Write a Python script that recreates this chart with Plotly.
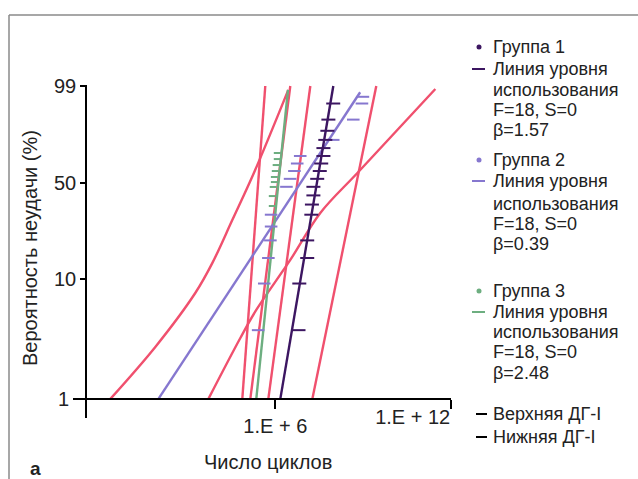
import numpy as np
import plotly.graph_objects as go

# ---------------- data (cycles, failure probability %) ----------------
g1_cycles = [9.5e7, 6.5e7, 6.0e7, 5.1e7, 4.4e7, 4.4e7, 3.7e7, 3.3e7, 2.7e7,
             2.0e7, 2.0e7, 1.78e7, 1.70e7, 1.23e7, 1.23e7, 6.6e6, 6.2e6]
g1_prob = [96.2, 90.8, 85.3, 79.9, 74.5, 69.0, 63.6, 58.2, 52.7,
           47.3, 41.8, 36.4, 31.0, 20.1, 14.7, 9.2, 3.8]

g2_cycles = [9.8e8, 9.1e8, 4.6e8, 9.5e7, 7.1e6, 5.6e6, 4.5e6, 3.2e6, 2.4e6,
             7.2e5, 7.2e5, 6.8e5, 5.8e5, 4.2e5, 2.6e5]
g2_prob = [97.6, 96.2, 90.8, 79.9, 69.0, 63.6, 58.2, 52.7, 47.3,
           31.0, 25.5, 20.1, 14.7, 9.2, 3.8]

g3_cycles = [1.17e6, 1.17e6, 1.07e6, 1.0e6, 9.3e5, 9.3e5, 8.5e5, 7.9e5, 7.9e5]
g3_prob = [71.1, 66.8, 62.5, 58.2, 54.0, 50.5, 47.2, 41.4, 35.6]

# usage-level (fit) lines
g1_line_cycles = [1.48e6, 9.57e7]
g1_line_prob = [1.0, 99.0]
g2_line_cycles = [101, 7.9e8]
g2_line_prob = [1.0, 98.3]
g3_line_cycles = [2.24e5, 2.71e6]
g3_line_prob = [1.0, 98.6]

# confidence bounds (upper / lower)
g1_low_cycles = [1.40e5, 3.25e6]
g1_low_prob = [1.0, 99.0]
g1_up_cycles = [1.84e7, 2.81e9]
g1_up_prob = [1.0, 99.0]
g3_low_cycles = [7.46e4, 4.55e5]
g3_low_prob = [1.0, 99.0]
g3_up_cycles = [5.77e5, 1.57e7]
g3_up_prob = [1.0, 99.0]
g2_low_cycles = [2.3, 80, 1850, 7050, 3.4e4, 1.92e5, 2.78e6]
g2_low_prob = [1.0, 2.75, 7.7, 13.4, 28.4, 57.5, 98.6]
g2_up_cycles = [5150, 6.4e4, 2.24e5, 3.25e6, 3.44e7, 6.84e8, 2.92e11]
g2_up_prob = [1.0, 3.27, 5.59, 14.2, 31.9, 57.5, 98.7]

y_ticks_prob = [99, 50, 10]
y_tick_labels = ["99", "50", "10"]
x_ticks = [1e6, 1e12]
x_tick_labels = ["1.E + 6", "1.E + 12"]

legend_lines = [
    ("Группа 1", 47), ("Линия уровня", 69), ("использования", 90),
    ("F=18, S=0", 110), ("β=1.57", 130),
    ("Группа 2", 160), ("Линия уровня", 181), ("использования", 204),
    ("F=18, S=0", 224), ("β=0.39", 244),
    ("Группа 3", 291), ("Линия уровня", 312), ("использования", 332),
    ("F=18, S=0", 352), ("β=2.48", 373),
    ("Верхняя ДГ-I", 414), ("Нижняя ДГ-I", 437),
]

# ---------------- styling ----------------
RED = "#F0506E"
DARK = "#3C1661"
VIOLET = "#8677CF"
GREEN = "#6DAE80"
FONT = "Liberation Sans, Arial, sans-serif"
TXT = "#222222"


def weib(p):
    p = np.asarray(p, dtype=float) / 100.0
    return np.log(-np.log(1.0 - p))


# plot area in pixels
PL, PR, PT, PB = 87, 451, 85, 418
Y_RANGE = [-4.970, 1.547]
X_RANGE = [-0.43, 12.0]


def px_x(px):
    return (px - PL) / (PR - PL)


def px_y(py):
    return (PB - py) / (PB - PT)


fig = go.Figure()


def add_line(xs, ps, color, shape="linear"):
    fig.add_trace(go.Scatter(x=xs, y=weib(ps), mode="lines",
                             line=dict(color=color, width=2.4, shape=shape),
                             showlegend=False, hoverinfo="skip"))


def add_marks(xs, ps, color, size):
    fig.add_trace(go.Scatter(x=xs, y=weib(ps), mode="markers",
                             marker=dict(symbol="line-ew", size=size,
                                         line=dict(color=color, width=2)),
                             showlegend=False, hoverinfo="skip"))


# confidence bounds
add_line(g2_low_cycles, g2_low_prob, RED, "spline")
add_line(g2_up_cycles, g2_up_prob, RED, "spline")
add_line(g3_low_cycles, g3_low_prob, RED)
add_line(g3_up_cycles, g3_up_prob, RED)
add_line(g1_low_cycles, g1_low_prob, RED)
add_line(g1_up_cycles, g1_up_prob, RED)
# fit lines
add_line(g2_line_cycles, g2_line_prob, VIOLET)
add_line(g3_line_cycles, g3_line_prob, GREEN)
add_line(g1_line_cycles, g1_line_prob, DARK)
# data marks
add_marks(g2_cycles, g2_prob, VIOLET, 9)
add_marks(g3_cycles, g3_prob, GREEN, 5)
add_marks(g1_cycles, g1_prob, DARK, 10)

# empty traces hosting the secondary axes (tick "1" and tick "1.E + 12")
fig.add_trace(go.Scatter(x=[], y=[], yaxis="y2", showlegend=False))
fig.add_trace(go.Scatter(x=[], y=[], xaxis="x2", showlegend=False))

y_pos_x_axis = (float(weib(1.0)) - Y_RANGE[0]) / (Y_RANGE[1] - Y_RANGE[0])

common_x = dict(type="log", range=X_RANGE, ticks="outside", ticklen=9, tickwidth=1.5,
                tickcolor="black", showgrid=False, zeroline=False,
                anchor="free", position=y_pos_x_axis,
                tickfont=dict(size=20, family=FONT, color=TXT))

fig.update_layout(
    width=638, height=479,
    margin=dict(l=PL, r=638 - PR, t=PT, b=479 - PB),
    paper_bgcolor="white", plot_bgcolor="white",
    font=dict(family=FONT, color=TXT),
    showlegend=False,
    xaxis=dict(**common_x, tickvals=x_ticks[:1], ticktext=x_tick_labels[:1],
               showline=True, linecolor="black", linewidth=1.5),
    xaxis2=dict(**common_x, overlaying="x", side="bottom",
                tickvals=x_ticks[1:], ticktext=x_tick_labels[1:],
                ticklabelposition="outside left", showline=False),
    yaxis=dict(range=Y_RANGE, tickvals=list(weib(y_ticks_prob)), ticktext=y_tick_labels,
               ticks="outside", ticklen=5, tickwidth=1.5, tickcolor="black",
               showline=True, linecolor="black", linewidth=1.5,
               showgrid=False, zeroline=False, ticklabelstandoff=0,
               tickfont=dict(size=20, family=FONT, color=TXT)),
    yaxis2=dict(range=Y_RANGE, overlaying="y", side="left", anchor="x",
                tickvals=[float(weib(1.0))], ticktext=["1"],
                ticks="outside", ticklen=13, tickwidth=1.5, tickcolor="black",
                showline=False, showgrid=False, zeroline=False, ticklabelstandoff=0,
                tickfont=dict(size=20, family=FONT, color=TXT)),
)

# frame of the figure
frame = dict(type="line", xref="paper", yref="paper", line=dict(color="#8a8a8a", width=1.5))
fig.add_shape(**frame, x0=px_x(9), x1=px_x(9), y0=px_y(15), y1=px_y(480))
fig.add_shape(**frame, x0=px_x(9), x1=px_x(640), y0=px_y(15), y1=px_y(15))

# axis titles and panel letter
fig.add_annotation(text="Вероятность неудачи (%)", textangle=-90, showarrow=False,
                   xref="paper", yref="paper", x=px_x(30), y=px_y(248),
                   xanchor="center", yanchor="middle", font=dict(size=20, color=TXT))
fig.add_annotation(text="Число циклов", showarrow=False, xref="paper", yref="paper",
                   x=px_x(268), y=px_y(462), xanchor="center", yanchor="middle",
                   font=dict(size=20, color=TXT))
fig.add_annotation(text="<b>а</b>", showarrow=False, xref="paper", yref="paper",
                   x=px_x(35), y=px_y(468), xanchor="center", yanchor="middle",
                   font=dict(size=19, color=TXT))

# custom legend
for txt, py in legend_lines:
    fig.add_annotation(text=txt, showarrow=False, xref="paper", yref="paper",
                       x=px_x(491), y=px_y(py), xanchor="left", yanchor="middle",
                       font=dict(size=18, color=TXT))

for color, (dot_y, dash_y) in zip([DARK, VIOLET, GREEN], [(47, 69), (160, 181), (291, 312)]):
    fig.add_shape(type="circle", xref="paper", yref="paper",
                  x0=px_x(476.5), x1=px_x(481.5), y0=px_y(dot_y + 2.5), y1=px_y(dot_y - 2.5),
                  fillcolor=color, line=dict(width=0))
    fig.add_shape(type="line", xref="paper", yref="paper",
                  x0=px_x(472), x1=px_x(485), y0=px_y(dash_y), y1=px_y(dash_y),
                  line=dict(color=color, width=2))
for dash_y in (414, 437):
    fig.add_shape(type="line", xref="paper", yref="paper",
                  x0=px_x(476), x1=px_x(487), y0=px_y(dash_y), y1=px_y(dash_y),
                  line=dict(color="black", width=2))

fig.write_html("out.html", config={"displayModeBar": False},
               post_script="document.body.style.margin='0';")
